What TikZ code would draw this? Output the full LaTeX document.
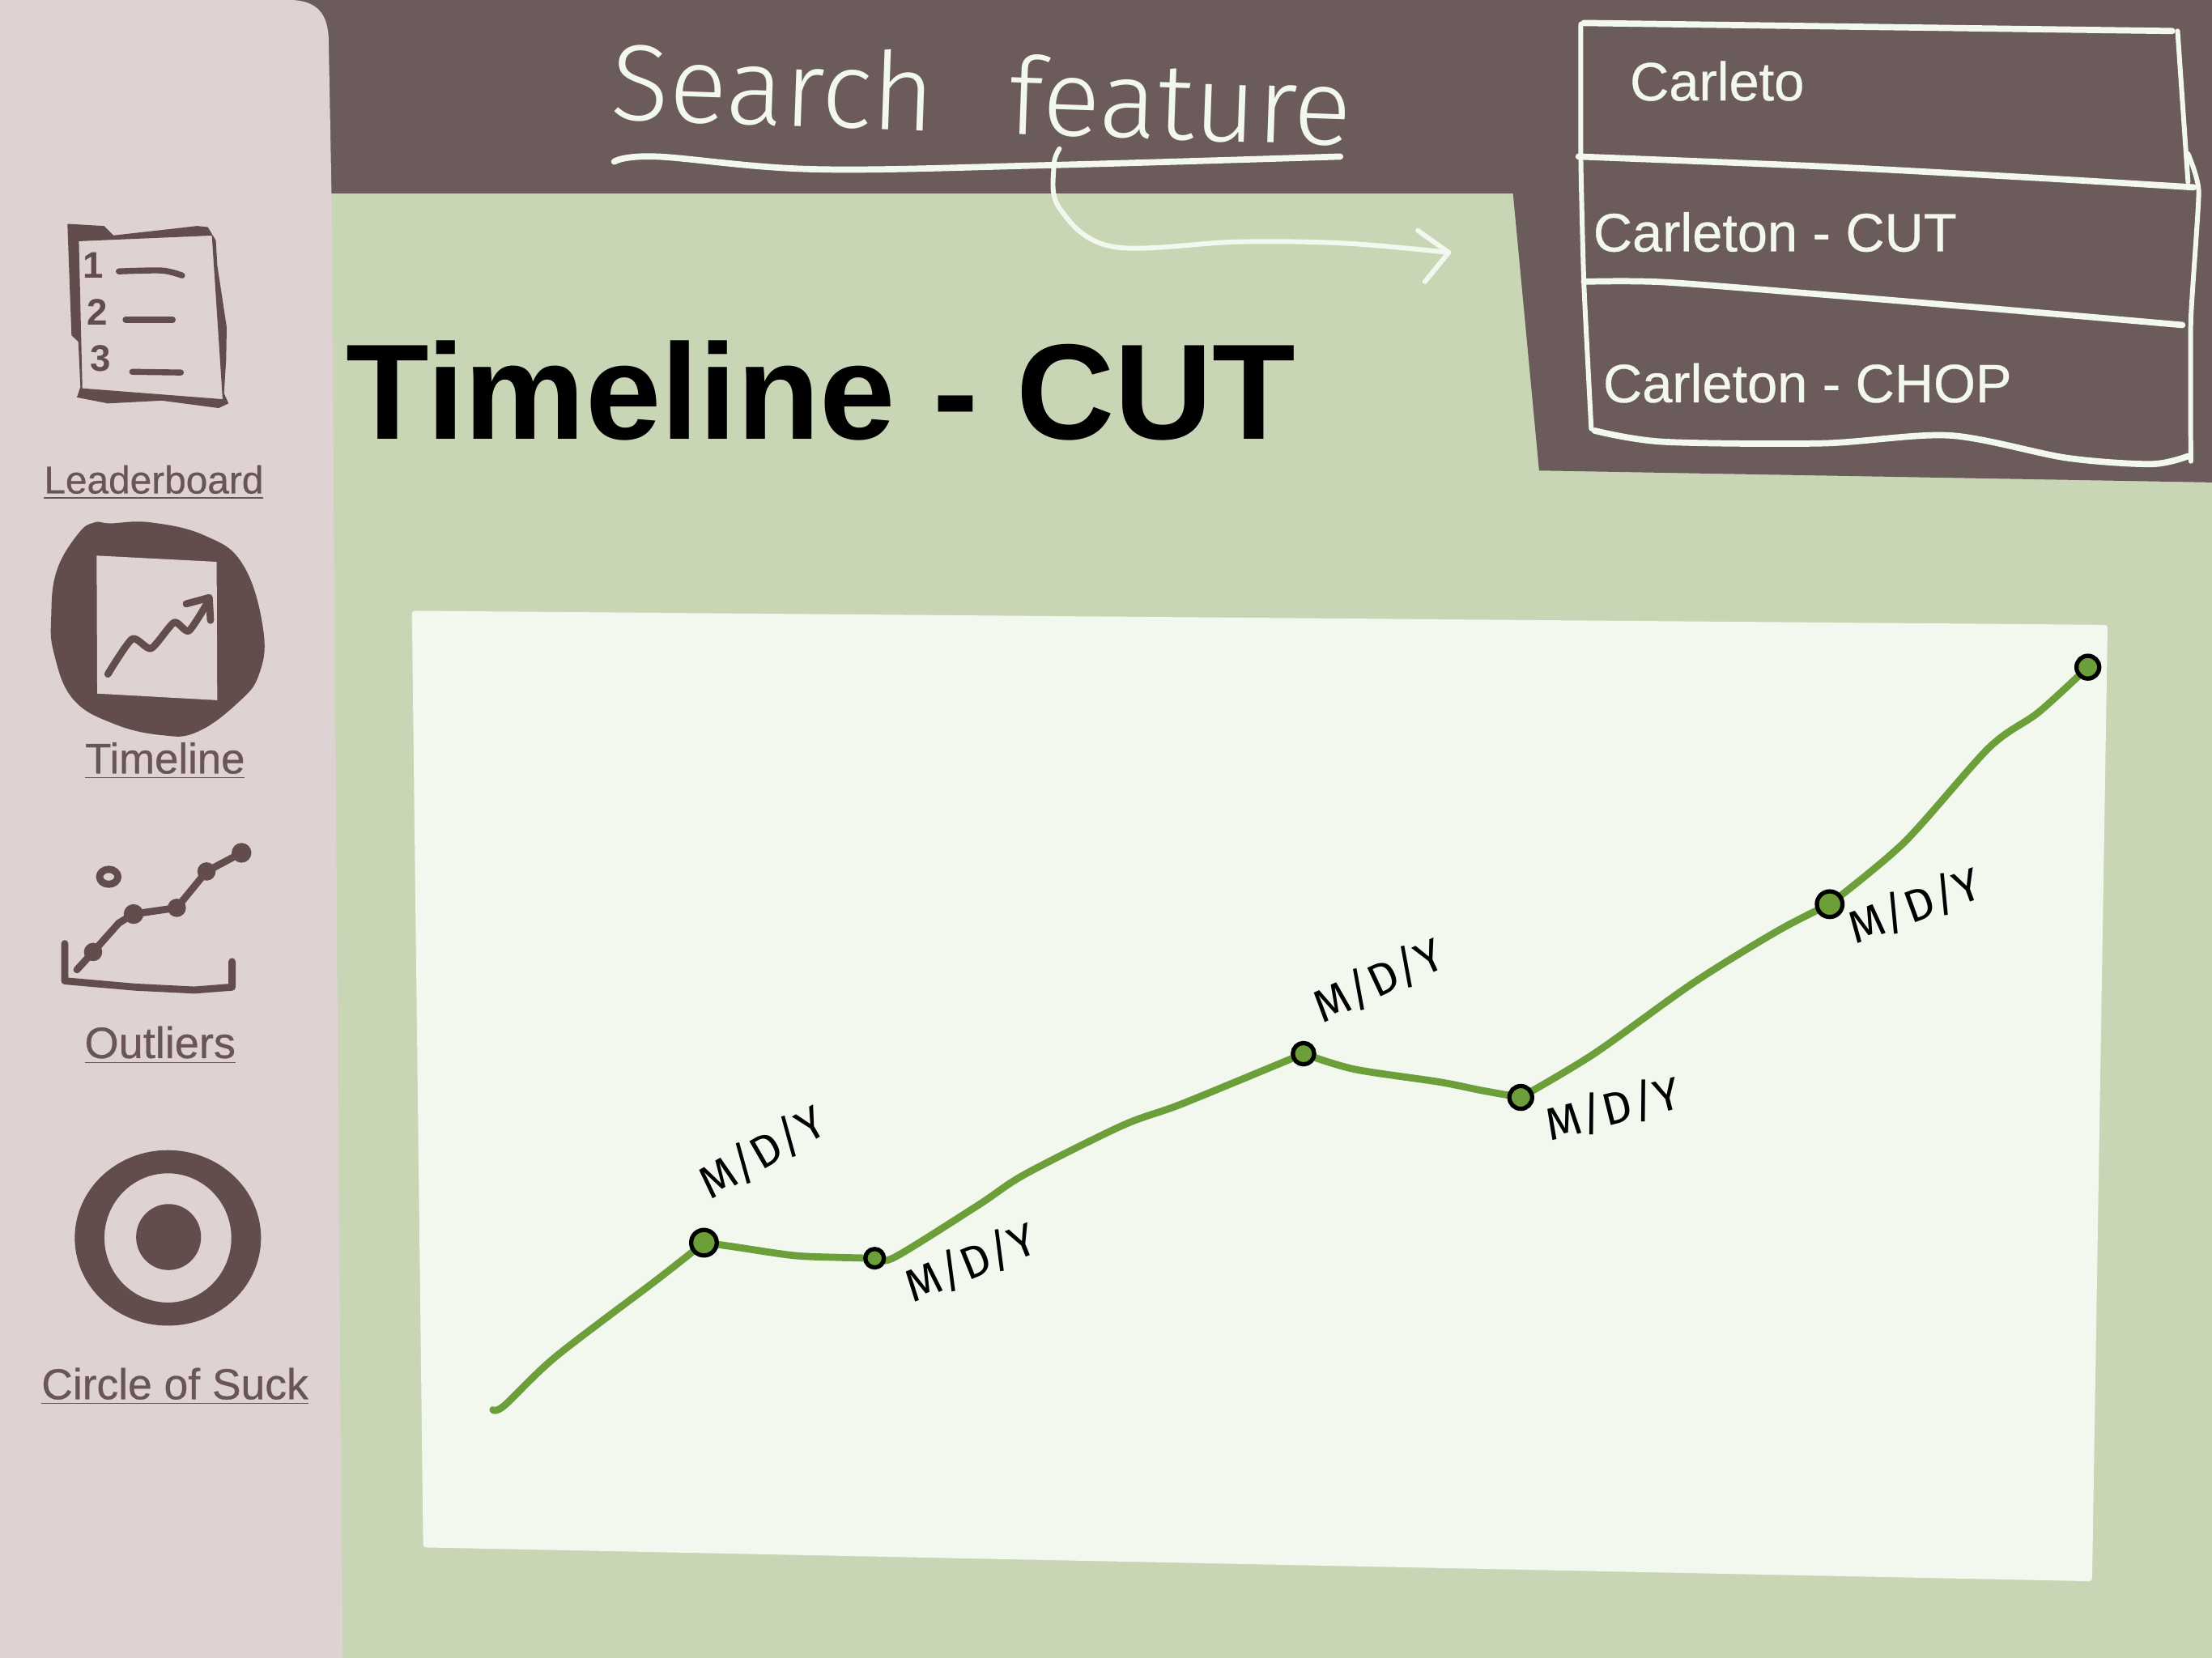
\documentclass[tikz,border=0pt]{standalone}
\usepackage{fontspec}
\setmainfont{Liberation Sans}
\newfontfamily\handfont{Fira Sans Light}
\newfontfamily\datefont{Fira Sans}
\newfontfamily\navfont[FakeBold=0.5]{Liberation Sans}
\definecolor{panelpink}{HTML}{DED2D3}
\definecolor{headbrown}{HTML}{6C5B5B}
\definecolor{iconbrown}{HTML}{624C4C}
\definecolor{labelbrown}{HTML}{6A5555}
\definecolor{pagegreen}{HTML}{C9D6B6}
\definecolor{cardwhite}{HTML}{F2F8EE}
\definecolor{trendgreen}{HTML}{6C9F3A}
\tikzset{
  iconline/.style={draw=iconbrown,line width=2.5pt,line cap=round,line join=round},
  navlabel/.style={text=labelbrown,inner sep=0pt},
  numlabel/.style={text=iconbrown,inner sep=0pt,font=\fontsize{13}{14}\selectfont\bfseries},
  menulabel/.style={text=cardwhite,anchor=west,inner sep=0pt,font=\navfont\fontsize{19}{22}\selectfont},
  handline/.style={draw=cardwhite,line width=1.7pt,line cap=round,line join=round},
  handthick/.style={handline,line width=2.2pt},
  trendline/.style={draw=trendgreen,line width=2.5pt,line cap=round},
  datedot/.style={circle,fill=trendgreen,draw=black,line width=1.5pt,inner sep=0pt},
  datelabel/.style={inner sep=0pt,font=\datefont\fontsize{16}{18}\selectfont}
}
\begin{document}
\begin{tikzpicture}[x=0.017423cm,y=-0.017423cm]
\useasboundingbox (0,0) rectangle (1568,1175.4);
\fill[pagegreen] (0,0) rectangle (1568,1175.4);
\fill[headbrown] (200,0) rectangle (1568,137);
\fill[headbrown] (1072.5,137) -- (1091,333.6) -- (1568,342) -- (1568,137) -- cycle;
\fill[panelpink] (0,0) -- (205,0) .. controls (225,0) and (233,10) .. (233,30) -- (235,137)
  -- (237.6,500) -- (241.6,1032) -- (243,1175.4) -- (0,1175.4) -- cycle;

\fill[cardwhite,rounded corners=1pt] (292,433) -- (1494,443) -- (1483,1121) -- (300,1097) -- cycle;

\fill[iconbrown,even odd rule] (47.8,158.7) -- (73.7,160.2) -- (80.4,166.9) -- (122.4,162.2) -- (139.7,160.2)
  -- (147.3,161) -- (153,170.4) -- (154,188) -- (160.7,232) -- (160.3,255) -- (158.8,278.8) -- (162,286)
  -- (155,289.3) -- (114.8,284) -- (76.5,286) -- (54.5,281.7) -- (57,274.4) -- (55.5,242.2) -- (50.7,237.8)
  -- (49.4,202.6) -- cycle
  (55.9,171) -- (150.2,167) -- (157.8,283) -- (58.4,275.3) -- cycle;
\draw[iconline,line width=2.1pt] plot[smooth] coordinates {(84.2,192.4) (114.8,191.8) (129.1,195.3)};
\draw[iconline,line width=2.1pt] (89,226.7) -- (122.4,226.7);
\draw[iconline,line width=2.1pt] (93.7,263.6) -- (128.2,264.1);
\node[numlabel] (numone) at (66,188) {1};
\node[numlabel] (numtwo) at (69,221) {2};
\node[numlabel] (numthree) at (71,254) {3};
\node[navlabel,font=\navfont\fontsize{13.6}{16}\selectfont] (leaderboard) at (109,342) {\underline{Leaderboard}};

\fill[iconbrown] plot[smooth cycle,tension=0.7] coordinates {(36.3,436.9) (40.2,404.7) (55.5,378.3) (67,370.4)
  (78.4,371) (107,370.4) (145.4,379.8) (172.2,400.3) (186.5,445.7) (183.7,477.9) (168.4,498.4)
  (139.7,518.9) (114.8,521.2) (80.4,513) (51.7,495.5) (38.3,463.3)};
\fill[panelpink] (68.5,393.9) -- (153.6,398.3) -- (154,496.4) -- (68.9,491.7) -- cycle;
\draw[iconline] plot[smooth,tension=0.4] coordinates {(76.5,477.9) (93.7,453) (107.1,459.7) (123.4,441.3) (133.9,447.2) (148.3,425.2)};
\draw[iconline] (132,428.1) -- (148.3,423.7) -- (149.2,439.8);
\node[navlabel,font=\navfont\fontsize{15}{16}\selectfont] (timeline) at (117,539.5) {\underline{Timeline}};

\draw[iconline] (77.1,621.6) ellipse [x radius=6.5,y radius=5.3];
\draw[iconline] (45.9,669) -- (45.9,695.4) -- (95.7,699.8) -- (137.7,701.9) -- (164.5,699.8) -- (164.5,681.7);
\draw[iconline] (54.5,687.5) -- (66,674.9) -- (84.2,654.4) -- (94.7,648) -- (125.3,643.6) -- (146.4,617.8) -- (171.2,604.6);
\foreach \px/\py/\pr in {66/674.9/6.5,94.7/648/7,125.3/643.6/6.5,146.4/617.8/6.5,171.2/604.6/7}{
  \fill[iconbrown] (\px,\py) circle (\pr);
}
\node[navlabel,font=\navfont\fontsize{15.4}{16}\selectfont] (outliers) at (113.5,741) {\underline{Outliers}};

\fill[iconbrown,even odd rule] (119,877.6) ellipse [x radius=66,y radius=62.2]
  (119,877.6) ellipse [x radius=45,y radius=45.8];
\fill[iconbrown] (119.5,877) ellipse [x radius=23,y radius=23.4];
\node[navlabel,font=\navfont\fontsize{15.2}{16}\selectfont] (circlesuck) at (124,983) {\underline{Circle of Suck}};

\node[inner sep=0pt,anchor=west,font=\fontsize{47.8}{50}\selectfont\bfseries] (title) at (245,277) {Timeline - CUT};

\node[text=cardwhite,inner sep=0pt,rotate=-2,font=\handfont\fontsize{38}{44}\selectfont] (search) at (696,66) {Search\hspace{26pt}feature};
\draw[handthick] plot[smooth,tension=0.6] coordinates {(435.4,114.6) (465.4,111) (578,120) (747,117) (950,111)};
\coordinate (arrowstart) at (751,105.5);
\coordinate (arrowend) at (1027,179);
\draw[handline] plot[smooth,tension=0.6] coordinates {(arrowstart) (747,118) (751,147.5) (788.5,174.8) (878.6,171.4) (953.8,172.5) (arrowend)};
\draw[handline] (1005,163.4) -- (arrowend) -- (1010,199.7);

\draw[handthick] (1122.8,16.3) -- (1539.8,22);
\draw[handline] plot[smooth,tension=0.3] coordinates {(1120.6,17) (1120.6,113.5) (1122.8,202) (1128,304)};
\draw[handline] (1543.6,22) -- (1551,129);
\draw[handline] plot[smooth,tension=0.3] coordinates {(1551,109) (1558.6,136) (1553,227) (1553,327)};
\draw[handthick] plot[smooth,tension=0.5] coordinates {(1119,111) (1292,118) (1442,126) (1555,132.8)};
\draw[handthick] plot[smooth,tension=0.5] coordinates {(1122.8,199.7) (1179,200) (1292,208.8) (1442,221.3) (1547,230.4)};
\draw[handthick] plot[smooth,tension=0.5] coordinates {(1130.3,305.3) (1179,313.2) (1292,314.3) (1382,308.7) (1464.7,324.6) (1525,329) (1551,323.4)};
\node[menulabel] (carleto) at (1155,57.5) {Carleto};
\node[menulabel] (carletoncut) at (1129,164.5) {Carleton - CUT};
\node[menulabel] (carletonchop) at (1136,271.5) {Carleton - CHOP};

\coordinate (trendstart) at (349.4,999.5);
\coordinate (dotone) at (499,881);
\coordinate (dottwo) at (620,892);
\coordinate (dotthree) at (924,747);
\coordinate (dotfour) at (1078,778);
\coordinate (dotfive) at (1297,641);
\coordinate (dotsix) at (1480,473);
\draw[trendline] plot[smooth,tension=0.5] coordinates {(trendstart) (357.6,996.4) (393.9,961.8) (466.4,906.7) (dotone)};
\draw[trendline] plot[smooth,tension=0.5] coordinates {(dotone) (519,883.7) (562,890) (593,891.4) (dottwo)};
\draw[trendline] plot[smooth,tension=0.5] coordinates {(dottwo) (634,891.4) (693.7,854.2) (726.7,832.4) (795.9,797.8) (838,782.5) (dotthree)};
\draw[trendline] plot[smooth,tension=0.5] coordinates {(dotthree) (960,758) (1020,767) (1050,773) (dotfour)};
\draw[trendline] plot[smooth,tension=0.5] coordinates {(dotfour) (1130,747) (1200,697) (1260,660) (dotfive)};
\draw[trendline] plot[smooth,tension=0.5] coordinates {(dotfive) (1350,597) (1410,530) (1445,505) (dotsix)};
\node[datedot,minimum size=9pt] (markone) at (dotone) {};
\node[datedot,minimum size=6.5pt] (marktwo) at (dottwo) {};
\node[datedot,minimum size=7.5pt] (markthree) at (dotthree) {};
\node[datedot,minimum size=8pt] (markfour) at (dotfour) {};
\node[datedot,minimum size=9pt] (markfive) at (dotfive) {};
\node[datedot,minimum size=8pt] (marksix) at (dotsix) {};

\node[datelabel,rotate=30] (dateone) at (540,817) {M/D/Y};
\node[datelabel,rotate=22] (datetwo) at (688,895) {M/D/Y};
\node[datelabel,rotate=25] (datethree) at (977,695) {M/D/Y};
\node[datelabel,rotate=14] (datefour) at (1143,786) {M/D/Y};
\node[datelabel,rotate=20] (datefive) at (1357,642) {M/D/Y};
\end{tikzpicture}
\end{document}
